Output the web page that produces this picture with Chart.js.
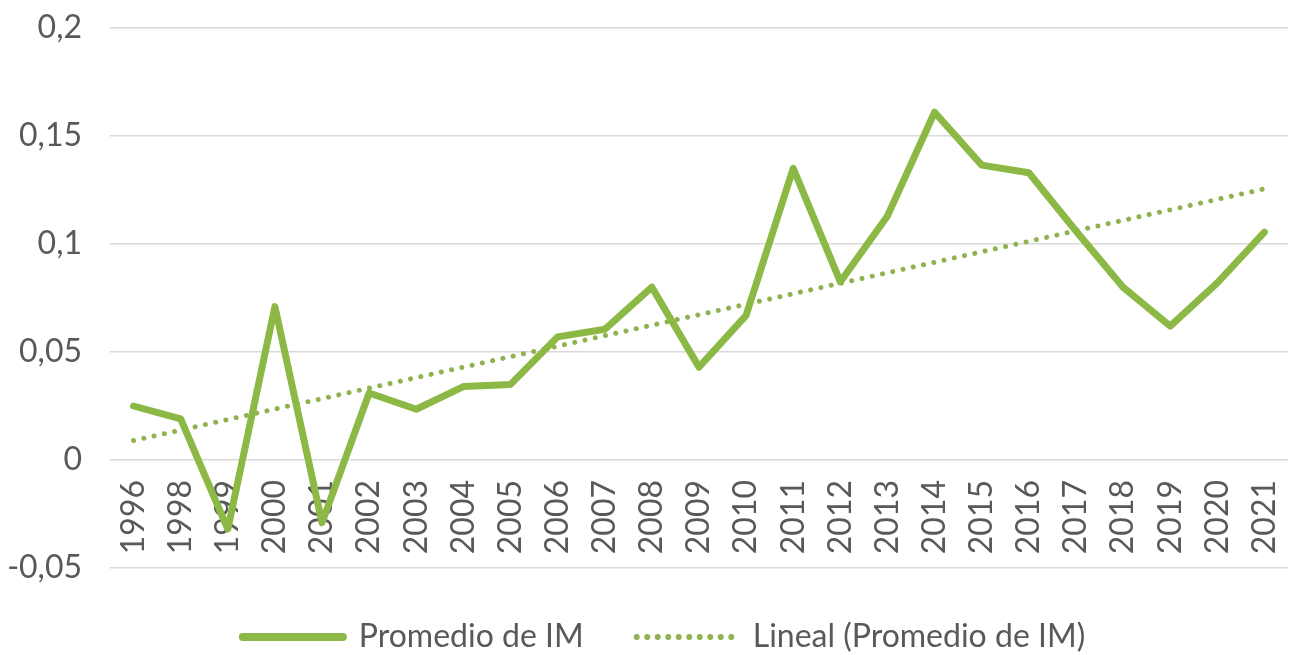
<!DOCTYPE html>
<html lang="es">
<head>
<meta charset="utf-8">
<title>Promedio de IM</title>
<script src="https://cdn.jsdelivr.net/npm/chart.js@4/dist/chart.umd.min.js"></script>
<style>
  html, body { margin: 0; padding: 0; background: #ffffff; overflow: hidden; }
  #wrap { width: 1290px; height: 655px; position: relative; }
</style>
</head>
<body>
<div id="wrap"><canvas id="chart"></canvas></div>
<script>
// Years on the category axis (1997 is not part of the series)
const years = ['1996', '1998', '1999', '2000', '2001', '2002', '2003', '2004', '2005',
  '2006', '2007', '2008', '2009', '2010', '2011', '2012', '2013', '2014', '2015',
  '2016', '2017', '2018', '2019', '2020', '2021'];

// Average IM per year
const promedioIM = [0.025, 0.019, -0.032, 0.071, -0.029, 0.031, 0.0235, 0.034, 0.035,
  0.057, 0.0605, 0.080, 0.043, 0.067, 0.135, 0.0825, 0.113, 0.161, 0.1365,
  0.133, 0.106, 0.080, 0.062, 0.082, 0.1055];

// Value axis range and step
const yMin = -0.05;
const yMax = 0.2;
const yStep = 0.05;

const labelSeries = 'Promedio de IM';
const labelTrend = 'Lineal (Promedio de IM)';

// Least-squares linear trend of the series over the category index
function linearTrend(values) {
  const n = values.length;
  const mx = (n - 1) / 2;
  const my = values.reduce((a, b) => a + b, 0) / n;
  let sxy = 0, sxx = 0;
  values.forEach((v, i) => { sxy += (i - mx) * (v - my); sxx += (i - mx) * (i - mx); });
  const slope = sxy / sxx;
  return values.map((_, i) => my + slope * (i - mx));
}

const green = '#8cb845';
const trendGreen = '#8fb24f';
const textGray = '#595959';
const gridGray = '#d9d9d9';
const fontFamily = 'Lato, "Open Sans", sans-serif';
const fontSize = 32;

// y-axis labels use a decimal comma
const fmt = v => {
  const r = Number(v.toFixed(2));
  return r === 0 ? '0' : String(r).replace('.', ',');
};

// nudges the legend row a little to the right of the canvas centre
const legendShift = {
  id: 'legendShift',
  afterLayout(chart) {
    const lg = chart.legend;
    if (lg) { lg.left += 20; lg.right += 20; }
  }
};

new Chart(document.getElementById('chart'), {
  type: 'line',
  data: {
    labels: years,
    datasets: [
      {
        label: labelSeries,
        data: promedioIM,
        borderColor: green,
        backgroundColor: green,
        borderWidth: 7,
        borderJoinStyle: 'round',
        borderCapStyle: 'round',
        pointRadius: 0,
        pointHoverRadius: 0,
        tension: 0,
        pointStyle: 'line'
      },
      {
        label: labelTrend,
        data: linearTrend(promedioIM),
        borderColor: trendGreen,
        backgroundColor: trendGreen,
        borderWidth: 5,
        borderDash: [0.01, 10.5],
        borderCapStyle: 'round',
        pointRadius: 0,
        pointHoverRadius: 0,
        tension: 0,
        pointStyle: 'line'
      }
    ]
  },
  plugins: [legendShift],
  options: {
    responsive: true,
    maintainAspectRatio: false,
    animation: false,
    events: [],
    layout: { padding: { top: 28, right: 2, left: 0, bottom: 0 } },
    scales: {
      x: {
        type: 'category',
        position: { y: 0 },
        offset: true,
        z: 1,
        afterFit: s => { s.paddingLeft = 0; s.paddingRight = 0; },
        // invisible tick marks keep the year labels clear of the zero line
        grid: { display: true, color: 'rgba(0,0,0,0)', tickColor: 'rgba(0,0,0,0)', drawTicks: true, tickLength: 20 },
        border: { display: false },
        ticks: {
          color: textGray,
          font: { family: fontFamily, size: fontSize },
          minRotation: 90,
          maxRotation: 90,
          autoSkip: false,
          padding: 0
        }
      },
      y: {
        min: yMin,
        max: yMax,
        afterFit: s => { s.width = 110; },
        grid: { color: gridGray, lineWidth: 1.6, drawTicks: true, tickLength: 28, tickColor: 'rgba(0,0,0,0)' },
        border: { display: false },
        ticks: {
          stepSize: yStep,
          color: textGray,
          font: { family: fontFamily, size: fontSize },
          padding: 0,
          callback: v => fmt(v)
        }
      }
    },
    plugins: {
      tooltip: { enabled: false },
      legend: {
        position: 'bottom',
        maxHeight: 87,
        labels: {
          usePointStyle: true,
          pointStyleWidth: 100,
          color: textGray,
          font: { family: fontFamily, size: fontSize },
          padding: 53,
          // legend samples follow each dataset's own stroke
          generateLabels: chart =>
            Chart.defaults.plugins.legend.labels.generateLabels(chart).map((item, i) => {
              const ds = chart.data.datasets[i];
              return Object.assign(item, {
                lineWidth: ds.borderWidth + 1,
                lineDash: ds.borderDash || [],
                lineCap: 'round',
                strokeStyle: ds.borderColor,
                fillStyle: ds.borderColor
              });
            })
        }
      }
    }
  }
});
</script>
</body>
</html>
